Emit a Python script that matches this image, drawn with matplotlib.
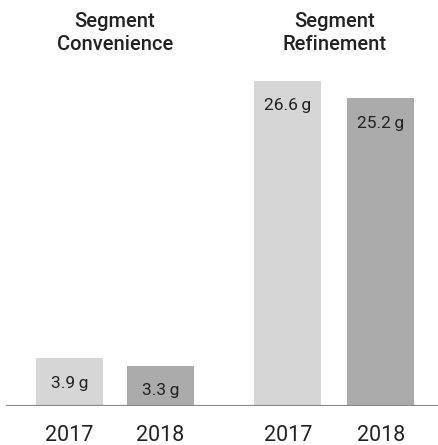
import matplotlib
matplotlib.use("Agg")
import matplotlib.pyplot as plt
from matplotlib.transforms import blended_transform_factory

plt.rcParams['font.family'] = ['Roboto', 'DejaVu Sans']

# Data
segments = ["Segment\nConvenience", "Segment\nRefinement"]
years = ["2017", "2018", "2017", "2018"]
values = [3.9, 3.3, 26.6, 25.2]
value_labels = ["3.9\u2009g", "3.3\u2009g", "26.6\u2009g", "25.2\u2009g"]

positions = [0, 1, 2.4, 3.42]
colors = ["#d6d6d6", "#ababab", "#d6d6d6", "#ababab"]
text_color = "#222222"

W, H = 439, 445
fig = plt.figure(figsize=(W / 100, H / 100), dpi=100)
base_px = 39  # baseline distance from bottom
ax = fig.add_axes([0, base_px / H, 1, 1 - base_px / H])

px_per_unit_x = 91.0
x0_px = 69.5
ax.set_xlim(-x0_px / px_per_unit_x, (W - x0_px) / px_per_unit_x)
px_per_unit_y = 12.22
ax.set_ylim(0, (H - base_px) / px_per_unit_y)

bar_w = 67 / px_per_unit_x
ax.bar(positions, values, width=bar_w, color=colors, zorder=2)

# value labels near the top of each bar
for x, v, lab in zip(positions, values, value_labels):
    ax.annotate(lab, xy=(x, v), xytext=(0, -25), textcoords="offset pixels",
                ha="center", va="center", fontsize=12.5, color=text_color, zorder=3)

# baseline
ax.axhline(0, xmin=7 / W, xmax=1, color="#8a8a8a", linewidth=1.6, zorder=3)

# year labels
ax.set_xticks(positions)
ax.set_xticklabels(years, fontsize=15.5, color=text_color)
ax.tick_params(axis="x", length=0, pad=14)
ax.set_yticks([])
for s in ax.spines.values():
    s.set_visible(False)

# segment titles
trans = blended_transform_factory(ax.transData, fig.transFigure)
group_centers = [(positions[0] + positions[1]) / 2, (positions[2] + positions[3]) / 2]
for gx, title in zip(group_centers, segments):
    ax.text(gx, 1 - 33 / H, title, transform=trans, ha="center", va="center",
            fontsize=14.5, fontweight="medium", color=text_color, linespacing=1.25)

fig.savefig("out.png", dpi=100)
